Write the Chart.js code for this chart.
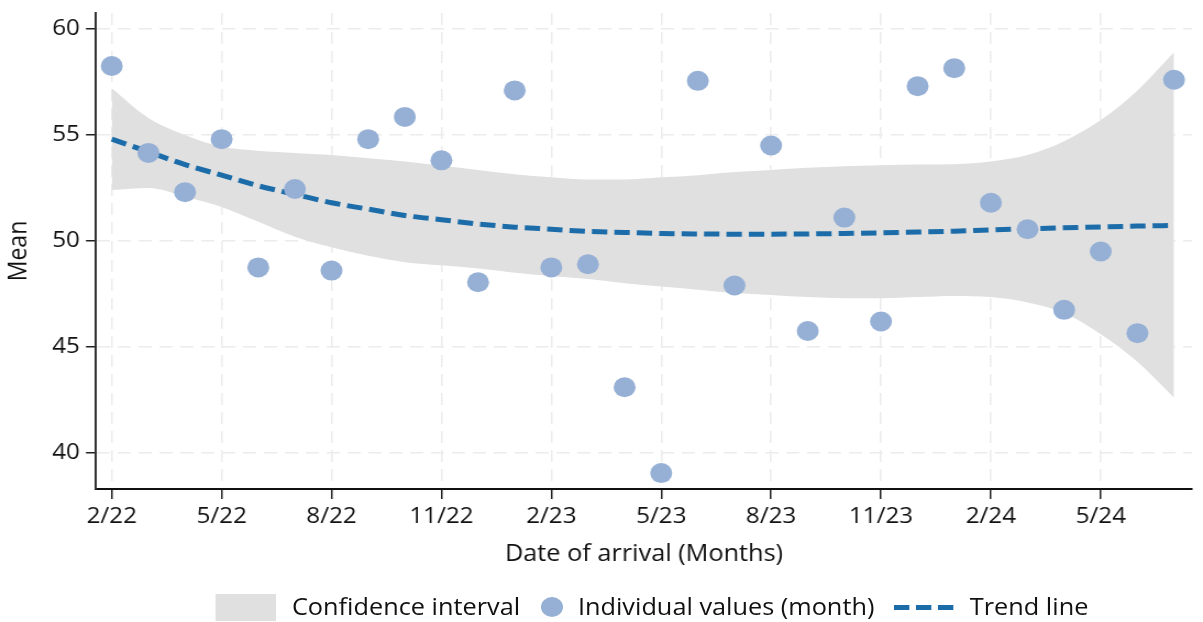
<!DOCTYPE html>
<html>
<head>
<meta charset="utf-8">
<script src="https://cdn.jsdelivr.net/npm/chart.js@4.4.0/dist/chart.umd.min.js"></script>
<style>
  html, body { margin: 0; padding: 0; background: #fff; overflow: hidden; }
  /* the reference is a little wider than tall-true, so the whole drawing is stretched */
  #wrap { position: relative; width: 1094px; height: 622px; transform: scaleX(1.0996); transform-origin: 0 0; }
  #chart { display: block; }
  #legend { position: absolute; left: 0; top: 591px; width: 1094px; height: 31px;
            font-family: "Open Sans", sans-serif; font-size: 23px; color: #111; }
  #legend .it { position: absolute; top: 0; height: 31px; line-height: 31px; white-space: nowrap; }
  .box { position: absolute; width: 54.5px; height: 27px; background: #e0e0e0; top: 3px; }
  .dot { position: absolute; width: 20px; height: 20px; border-radius: 50%; background: #96b0d5; top: 5.5px; }
  .dash { position: absolute; width: 13.6px; height: 5px; background: #1b6ca8; top: 14px; }
</style>
</head>
<body>
<div id="wrap">
  <canvas id="chart" width="1094" height="622" style="width:1094px;height:622px"></canvas>
  <div id="legend">
    <div class="box" style="left:196.4px"></div>
    <div class="it" style="left:265.5px">Confidence interval</div>
    <div class="dot" style="left:492px"></div>
    <div class="it" style="left:525.6px">Individual values (month)</div>
    <div class="dash" style="left:813px"></div>
    <div class="dash" style="left:833px"></div>
    <div class="dash" style="left:853px"></div>
    <div class="it" style="left:882px">Trend line</div>
  </div>
</div>
<script>
// months since 2/22
var months = ["2/22","3/22","4/22","5/22","6/22","7/22","8/22","9/22","10/22","11/22","12/22","1/23",
              "2/23","3/23","4/23","5/23","6/23","7/23","8/23","9/23","10/23","11/23","12/23","1/24",
              "2/24","3/24","4/24","5/24","6/24","7/24"];

var monthValues = [58.25, 54.15, 52.3, 54.8, 48.75, 52.45, 48.6, 54.8, 55.85, 53.8, 48.05, 57.1,
                   48.75, 48.9, 43.1, 39.05, 57.55, 47.9, 54.5, 45.75, 51.1, 46.2, 57.3, 58.15,
                   51.8, 50.55, 46.75, 49.5, 45.65, 57.6];

var trend = [54.8, 54.2, 53.6, 53.1, 52.6, 52.2, 51.8, 51.5, 51.2, 51.0, 50.8, 50.65,
             50.55, 50.45, 50.4, 50.35, 50.33, 50.32, 50.32, 50.33, 50.35, 50.38, 50.42, 50.46,
             50.52, 50.57, 50.62, 50.66, 50.7, 50.73];

var ciUpper = [57.2, 55.8, 55.0, 54.45, 54.25, 54.15, 54.05, 53.9, 53.75, 53.55, 53.35, 53.15,
               53.0, 52.9, 52.9, 53.0, 53.1, 53.25, 53.35, 53.45, 53.52, 53.57, 53.6, 53.62,
               53.75, 54.05, 54.7, 55.7, 57.1, 58.9];

var ciLower = [52.4, 52.5, 52.1, 51.6, 50.9, 50.2, 49.7, 49.3, 49.0, 48.85, 48.7, 48.5,
               48.35, 48.2, 48.0, 47.85, 47.7, 47.55, 47.45, 47.35, 47.3, 47.3, 47.35, 47.4,
               47.35, 47.1, 46.6, 45.6, 44.3, 42.6];

var xTicks = [0, 3, 6, 9, 12, 15, 18, 21, 24, 27];
var yTicks = [40, 45, 50, 55, 60];

function pts(arr) {
  return arr.map(function (v, i) { return { x: i, y: v }; });
}

var tickFont = { family: "'Open Sans', sans-serif", size: 22 };
var titleFont = { family: "'Open Sans', sans-serif", size: 23 };

var ctx = document.getElementById("chart").getContext('2d');
var myChart = new Chart(ctx, {
  type: 'scatter',
  data: {
    datasets: [
      {
        type: 'line',
        label: 'lower',
        data: pts(ciLower),
        borderWidth: 0,
        pointRadius: 0,
        fill: false,
        cubicInterpolationMode: 'monotone',
        order: 3
      },
      {
        type: 'line',
        label: 'Confidence interval',
        data: pts(ciUpper),
        borderWidth: 0,
        pointRadius: 0,
        backgroundColor: '#e0e0e0',
        fill: '-1',
        cubicInterpolationMode: 'monotone',
        order: 2
      },
      {
        type: 'line',
        label: 'Trend line',
        data: pts(trend),
        borderColor: '#1b6ca8',
        borderWidth: 5,
        borderDash: [14, 6.4],
        pointRadius: 0,
        fill: false,
        cubicInterpolationMode: 'monotone',
        order: 1
      },
      {
        label: 'Individual values (month)',
        data: pts(monthValues),
        backgroundColor: '#96b0d5',
        borderWidth: 0,
        pointRadius: 10,
        pointHoverRadius: 10,
        order: 0
      }
    ]
  },
  options: {
    responsive: false,
    animation: false,
    devicePixelRatio: 1,
    layout: { padding: { left: 0, right: 0, top: 13, bottom: 0 } },
    plugins: {
      legend: { display: false },
      tooltip: { enabled: false }
    },
    scales: {
      x: {
        type: 'linear',
        min: -0.43,
        max: 29.49,
        afterBuildTicks: function (scale) {
          scale.ticks = xTicks.map(function (v) { return { value: v }; });
        },
        afterFit: function (scale) {
          scale.height = 133;
          scale.paddingLeft = 0;
          scale.paddingRight = 0;
        },
        ticks: {
          font: tickFont,
          color: '#111',
          padding: 5,
          maxRotation: 0,
          autoSkip: false,
          callback: function (v) { return months[v]; }
        },
        grid: {
          color: '#ececec',
          lineWidth: 1.5,
          tickLength: 10,
          tickColor: '#222',
          tickWidth: 1.5
        },
        border: { color: '#111', width: 2, dash: [12, 7] },
        title: {
          display: true,
          text: 'Date of arrival (Months)',
          font: titleFont,
          color: '#111',
          padding: { top: 0, bottom: 54 }
        }
      },
      y: {
        min: 38.3,
        max: 60.75,
        afterBuildTicks: function (scale) {
          scale.ticks = yTicks.map(function (v) { return { value: v }; });
        },
        afterFit: function (scale) {
          scale.width = 87.3;
          scale.paddingTop = 0;
          scale.paddingBottom = 0;
        },
        ticks: {
          font: tickFont,
          color: '#111',
          padding: 5.5
        },
        grid: {
          color: '#ececec',
          lineWidth: 1.5,
          tickLength: 9.1,
          tickColor: '#222',
          tickWidth: 1.5
        },
        border: { color: '#333', width: 2, dash: [12, 7] },
        title: {
          display: true,
          text: 'Mean',
          font: titleFont,
          color: '#111',
          padding: { top: 4, bottom: 0 }
        }
      }
    }
  }
});
</script>
</body>
</html>
